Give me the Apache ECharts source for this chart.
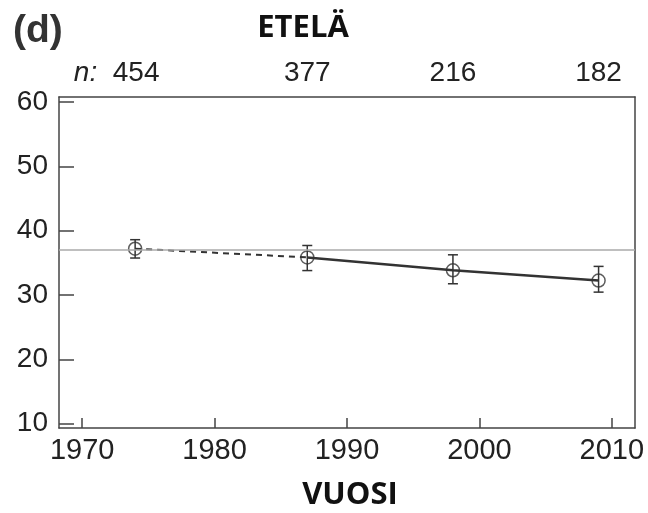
<!DOCTYPE html>
<html lang="fi">

<head>
    <meta charset="UTF-8">
    <title>ETELÄ</title>
    <script src="https://cdn.jsdelivr.net/npm/echarts@6/dist/echarts.min.js"></script>
    <style>
        html, body { margin: 0; padding: 0; background: #fff; }
        #main { width: 648px; height: 513px; }
    </style>
</head>

<body>
    <div id="main"></div>
    <script>
    // data
    var years = [1974, 1987, 1998, 2009];
    var means = [37.2, 35.85, 33.85, 32.25];
    var lows = [35.75, 33.8, 31.75, 30.45];
    var highs = [38.6, 37.7, 36.25, 34.45];
    var nCounts = [454, 377, 216, 182];
    var refLevel = 37.1;
    var xTicks = [1970, 1980, 1990, 2000, 2010];
    var yTicks = [10, 20, 30, 40, 50, 60];

    var dark = '#444';
    var font = 'Liberation Sans, Arial, sans-serif';

    var points = years.map(function (y, i) { return [y, means[i]]; });
    var bars = years.map(function (y, i) { return [y, lows[i], highs[i]]; });

    var myChart = echarts.init(document.getElementById('main'));

    var option = {
        animation: false,
        title: [
            { text: '(d)', left: 8, top: 7,
              textStyle: { fontFamily: font, fontWeight: 'bold', fontSize: 39, color: '#333' } },
            { text: 'ETELÄ', left: 298, top: 8, textAlign: 'center',
              textStyle: { fontFamily: 'Open Sans', fontWeight: 'bold', fontSize: 31, color: '#111' } },
            { text: 'VUOSI', left: 345, top: 475, textAlign: 'center',
              textStyle: { fontFamily: 'Open Sans', fontWeight: 'bold', fontSize: 31, color: '#111' } }
        ],
        grid: { left: 59, right: 13, top: 97, bottom: 85 },
        xAxis: [{
            type: 'value', min: 1968.25, max: 2011.75,
            splitLine: { show: false },
            axisLine: { lineStyle: { color: dark, width: 1.5 } },
            axisTick: { inside: true, length: 10, customValues: xTicks, lineStyle: { color: dark, width: 1.5 } },
            axisLabel: {
                customValues: xTicks, margin: 8, fontFamily: font, fontSize: 29, color: '#222',
                formatter: function (v) { return String(v); }
            }
        }, {
            type: 'value', min: 1968.25, max: 2011.75, position: 'top',
            splitLine: { show: false },
            axisLine: { show: true, lineStyle: { color: dark, width: 1.5 } },
            axisTick: { show: false },
            axisLabel: {
                customValues: years, margin: 10, fontFamily: font, fontSize: 28, color: '#222',
                formatter: function (v) {
                    var i = years.indexOf(v);
                    if (i === 0) return '{i|n:}  ' + nCounts[i] + '{p|}';
                    return String(nCounts[i]);
                },
                rich: {
                    i: { fontFamily: font, fontStyle: 'italic', fontSize: 28, color: '#222' },
                    p: { width: 37 }
                }
            }
        }],
        yAxis: [{
            type: 'value', min: 9.33, max: 60.78,
            splitLine: { show: false },
            axisLine: { show: true, lineStyle: { color: dark, width: 1.5 } },
            axisTick: { inside: true, length: 15, customValues: yTicks, lineStyle: { color: dark, width: 1.5 } },
            axisLabel: { customValues: yTicks, margin: 11, fontFamily: font, fontSize: 28, color: '#222' }
        }, {
            type: 'value', min: 9.33, max: 60.78, position: 'right',
            splitLine: { show: false },
            axisLine: { show: true, lineStyle: { color: dark, width: 1.5 } },
            axisTick: { show: false },
            axisLabel: { show: false }
        }],
        series: [{
            // dashed segment 1974-1987
            type: 'line',
            data: points.slice(0, 2),
            symbol: 'none',
            lineStyle: { color: '#333', width: 2, type: [6, 5] },
            markLine: {
                silent: true, symbol: 'none', label: { show: false },
                lineStyle: { color: '#aaa', width: 1.5, type: 'solid' },
                data: [{ yAxis: refLevel }]
            }
        }, {
            // solid segment 1987-2009
            type: 'line',
            data: points.slice(1),
            symbol: 'none',
            lineStyle: { color: '#333', width: 2.5 }
        }, {
            // error bars
            type: 'custom',
            data: bars,
            renderItem: function (params, api) {
                var x = api.value(0);
                var lo = api.coord([x, api.value(1)]);
                var hi = api.coord([x, api.value(2)]);
                var w = 5;
                var st = { stroke: '#333', lineWidth: 1.5 };
                return {
                    type: 'group',
                    children: [
                        { type: 'line', shape: { x1: lo[0], y1: lo[1], x2: hi[0], y2: hi[1] }, style: st },
                        { type: 'line', shape: { x1: lo[0] - w, y1: lo[1], x2: lo[0] + w, y2: lo[1] }, style: st },
                        { type: 'line', shape: { x1: hi[0] - w, y1: hi[1], x2: hi[0] + w, y2: hi[1] }, style: st }
                    ]
                };
            },
            z: 3
        }, {
            type: 'scatter',
            data: points,
            symbol: 'circle',
            symbolSize: 13,
            itemStyle: { color: 'rgba(255,255,255,0)', borderColor: '#333', borderWidth: 1.5 },
            z: 4
        }]
    };

    myChart.setOption(option);
    </script>
</body>

</html>
